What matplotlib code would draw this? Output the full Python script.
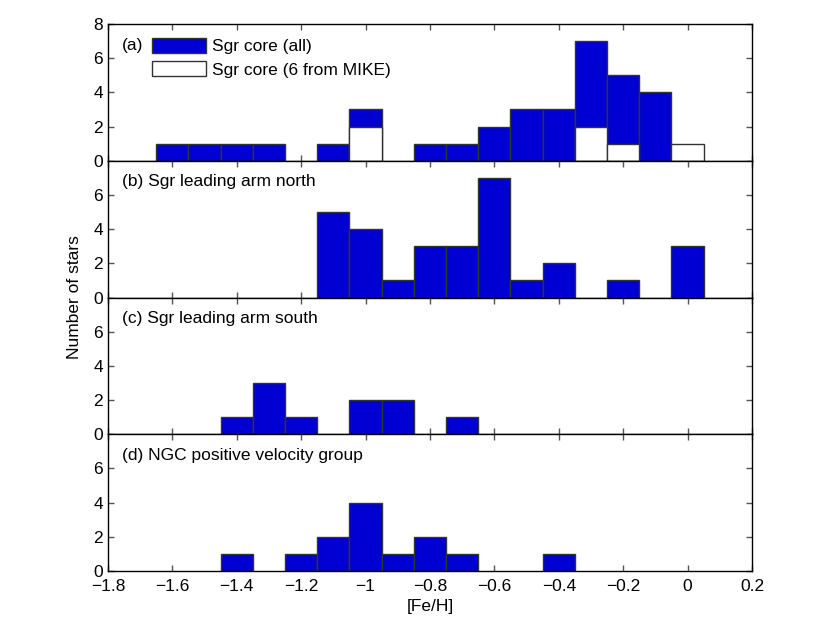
import matplotlib
matplotlib.use("Agg")
import matplotlib.pyplot as plt
from matplotlib.patches import Patch

plt.rcParams['font.family'] = ['Liberation Sans', 'DejaVu Sans']

# bin centres in [Fe/H]
fe_h = [-1.6, -1.5, -1.4, -1.3, -1.2, -1.1, -1.0, -0.9, -0.8,
        -0.7, -0.6, -0.5, -0.4, -0.3, -0.2, -0.1, 0.0]

# star counts per bin
core_all = [1, 1, 1, 1, 0, 1, 3, 0, 1, 1, 2, 3, 3, 7, 5, 4, 0]
core_mike = [0, 0, 0, 0, 0, 0, 2, 0, 0, 0, 0, 0, 0, 2, 1, 0, 1]
arm_north = [0, 0, 0, 0, 0, 5, 4, 1, 3, 3, 7, 1, 2, 0, 1, 0, 3]
arm_south = [0, 0, 1, 3, 1, 0, 2, 2, 0, 1, 0, 0, 0, 0, 0, 0, 0]
ngc_group = [0, 0, 1, 0, 1, 2, 4, 1, 2, 1, 0, 0, 1, 0, 0, 0, 0]

panel_labels = ["(a)", "(b) Sgr leading arm north",
                "(c) Sgr leading arm south", "(d) NGC positive velocity group"]
legend_labels = ["Sgr core (all)", "Sgr core (6 from MIKE)"]
xtick_vals = [-1.8, -1.6, -1.4, -1.2, -1.0, -0.8, -0.6, -0.4, -0.2, 0.0, 0.2]
xtick_text = ["\u22121.8", "\u22121.6", "\u22121.4", "\u22121.2", "\u22121",
              "\u22120.8", "\u22120.6", "\u22120.4", "\u22120.2", "0", "0.2"]

blue = "#0000d2"
edge = "#333333"
fsize = 12.5


def draw_bars(ax, counts, color):
    x = [c for c, n in zip(fe_h, counts) if n > 0]
    y = [n for n in counts if n > 0]
    ax.bar(x, y, width=0.1, color=color, edgecolor=edge, linewidth=1.0, zorder=2)


fig = plt.figure(figsize=(8.3, 6.24), dpi=100)
left, right = 0.130, 0.906
top, bottom = 0.9615, 0.0849
h = (top - bottom) / 4

series = [core_all, arm_north, arm_south, ngc_group]
axes = []
for i in range(4):
    ax = fig.add_axes([left, top - (i + 1) * h, right - left, h])
    draw_bars(ax, series[i], blue)
    if i == 0:
        draw_bars(ax, core_mike, "white")
    ax.set_xlim(-1.8, 0.2)
    ax.set_ylim(0, 8)
    ax.set_xticks(xtick_vals)
    if i == 0:
        ax.set_yticks([0, 2, 4, 6, 8])
    else:
        ax.set_yticks([0, 2, 4, 6])
    ax.tick_params(direction="in", top=True, right=True, length=4.3,
                   width=1.0, color="#555555", labelsize=fsize)
    ax.tick_params(axis="y", pad=3.5)
    ax.tick_params(axis="x", pad=6)
    for s in ax.spines.values():
        s.set_linewidth(1.0)
        s.set_color("black")
    if i < 3:
        ax.tick_params(labelbottom=False)
    ax.text(0.022, 0.9, panel_labels[i], transform=ax.transAxes,
            fontsize=fsize, va="top", ha="left")
    axes.append(ax)

handles = [Patch(facecolor=blue, edgecolor=edge, linewidth=1.0),
           Patch(facecolor="white", edgecolor=edge, linewidth=1.0)]
axes[0].legend(handles, legend_labels, loc="upper left",
               bbox_to_anchor=(0.068, 0.90), frameon=False, fontsize=fsize,
               handlelength=3.15, handleheight=0.95, handletextpad=0.35,
               labelspacing=0.4, borderaxespad=0, borderpad=0)

axes[3].set_xticklabels(xtick_text)
axes[3].set_xlabel("[Fe/H]", fontsize=fsize, labelpad=3)
fig.text(0.090, (top + bottom) / 2, "Number of stars", rotation=90,
         ha="center", va="center", fontsize=fsize)

fig.savefig("out.png", dpi=100)
